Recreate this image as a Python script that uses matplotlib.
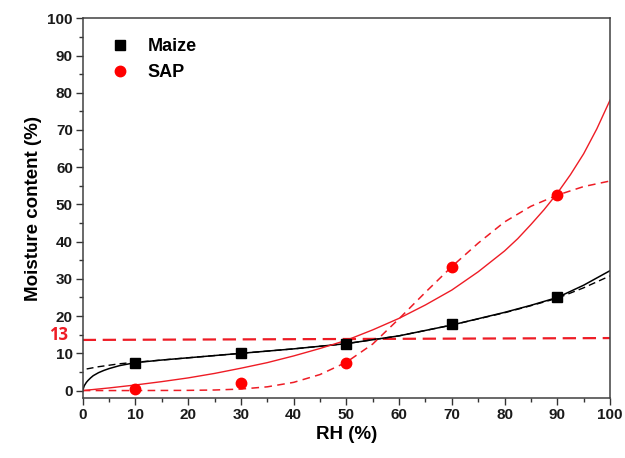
import matplotlib.pyplot as plt
from matplotlib.ticker import MultipleLocator
from matplotlib.lines import Line2D
import matplotlib.transforms as mtransforms

plt.rcParams['font.family'] = ['Liberation Sans', 'DejaVu Sans']
plt.rcParams['font.weight'] = 'bold'

# measured points
rh_pts = [10, 30, 50, 70, 90]
maize_pts = [7.5, 10.0, 12.5, 18.0, 25.0]
sap_pts = [0.3, 2.0, 7.5, 33.3, 52.5]

# fitted curves
maize_fit1_x = [0, 0.3, 0.7, 1, 1.5, 2, 3, 4, 5, 7, 10, 15, 20, 30, 40, 50, 60, 70, 80, 85, 90, 95, 100]
maize_fit1_y = [0, 1.3, 2.2, 2.7, 3.4, 4.0, 4.8, 5.4, 5.9, 6.7, 7.5, 8.2, 8.8, 10.0, 11.2, 12.6, 14.7, 17.6, 21.0, 22.9, 25.0, 28.3, 32.2]
maize_fit2_x = [0.75, 3, 5, 7, 10, 15, 20, 30, 40, 50, 60, 70, 80, 85, 90, 95, 100]
maize_fit2_y = [5.8, 6.4, 6.8, 7.2, 7.6, 8.2, 8.8, 10.0, 11.2, 12.6, 14.7, 17.6, 20.9, 22.8, 24.8, 27.6, 30.8]
sap_fit1_x = [0, 5, 10, 15, 20, 25, 30, 35, 40, 45, 50, 55, 60, 65, 70, 75, 80, 82.5, 85, 87.5, 90, 92.5, 95, 97.5, 100]
sap_fit1_y = [0, 0.7, 1.5, 2.4, 3.4, 4.6, 6.0, 7.5, 9.3, 11.3, 13.5, 16.3, 19.4, 23.0, 27.0, 31.9, 37.5, 40.8, 44.6, 48.6, 53.0, 58.0, 63.6, 70.3, 78.0]
sap_fit2_x = [0, 10, 20, 25, 30, 35, 40, 45, 50, 55, 60, 65, 70, 75, 80, 85, 90, 95, 100]
sap_fit2_y = [0, 0, 0.05, 0.15, 0.4, 1.0, 2.2, 4.3, 7.6, 12.5, 19.3, 26.4, 33.3, 39.6, 45.3, 49.5, 52.5, 54.8, 56.3]
limit_x = [0, 100]
limit_y = [13.6, 14.1]

fig = plt.figure(figsize=(6.25, 4.58), dpi=100)
ax = fig.add_axes((0.1323, 0.131, 0.8437, 0.829))

red = '#ee1c25'
ax.plot(limit_x, limit_y, color=red, lw=1.6, dashes=(6, 3))
ax.plot(maize_fit2_x, maize_fit2_y, color='black', lw=1.0, dashes=(5, 3))
ax.plot(maize_fit1_x, maize_fit1_y, color='black', lw=1.1)
ax.plot(sap_fit1_x, sap_fit1_y, color=red, lw=1.0)
ax.plot(sap_fit2_x, sap_fit2_y, color=red, lw=1.1, dashes=(5, 3.5))
ax.plot(rh_pts, maize_pts, 's', color='black', ms=6.5, ls='none')
ax.plot(rh_pts, sap_pts, 'o', color='#ff0000', ms=7.5, ls='none')

ax.set_xlim(0, 100)
ax.set_ylim(-2, 100)
ax.xaxis.set_major_locator(MultipleLocator(10))
ax.xaxis.set_minor_locator(MultipleLocator(5))
ax.yaxis.set_major_locator(MultipleLocator(10))
ax.yaxis.set_minor_locator(MultipleLocator(5))
ax.tick_params(which='major', direction='out', length=5, width=1.0, labelsize=11, pad=2, color='#333333')
ax.tick_params(which='minor', direction='out', length=3, width=1.0, color='#333333')
ax.tick_params(top=False, right=False, which='both')
for s in ax.spines.values():
    s.set_color('#404040')
    s.set_linewidth(1.1)
for lab in ax.get_xticklabels() + ax.get_yticklabels():
    lab.set_fontweight('bold')
    lab.set_color('#1a1a1a')

ax.set_xlabel('RH (%)', fontsize=13.5, fontweight='bold', labelpad=3)
ax.set_ylabel('Moisture content (%)', fontsize=13.5, fontweight='bold', labelpad=4)

trans = mtransforms.blended_transform_factory(ax.transAxes, ax.transData)
ax.text(-0.027, 14.8, '13', transform=trans, color=red, fontsize=12, fontweight='bold',
        ha='right', va='center', family=['Open Sans', 'DejaVu Sans'])

handles = [Line2D([], [], marker='s', color='black', ls='none', ms=6.5),
           Line2D([], [], marker='o', color='#ff0000', ls='none', ms=7.5)]
ax.legend(handles, ['Maize', 'SAP'], loc='upper left', bbox_to_anchor=(0.02, 0.99),
          frameon=False, prop={'weight': 'bold', 'size': 13}, handletextpad=0.9,
          labelspacing=0.5, handlelength=1.2)

fig.savefig('out.png', dpi=100)
